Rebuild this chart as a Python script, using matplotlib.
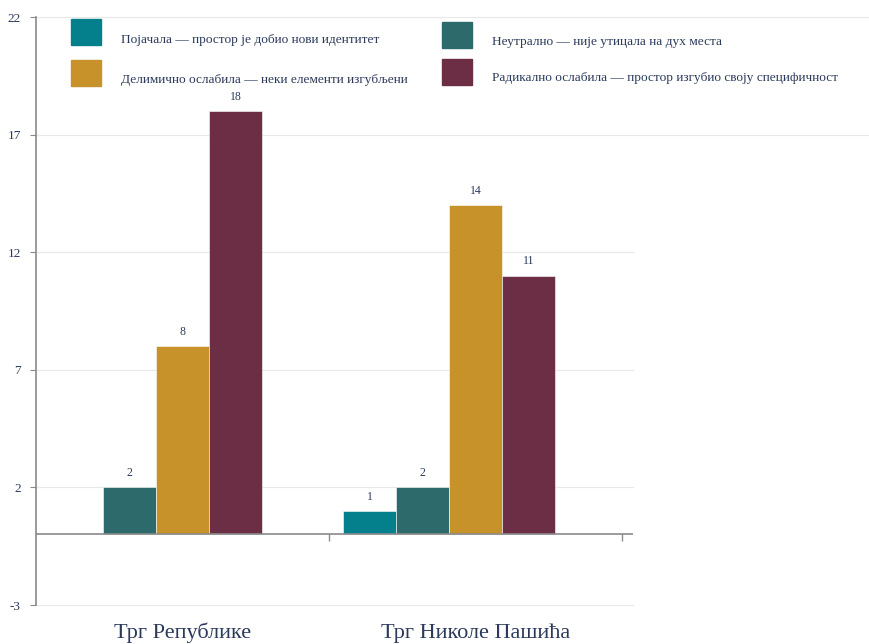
import numpy as np
import matplotlib.pyplot as plt
from matplotlib.patches import Rectangle
from matplotlib.transforms import blended_transform_factory

# data
categories = ['Трг Републике', 'Трг Николе Пашића']
series_labels = [
    'Појачала — простор је добио нови идентитет',
    'Неутрално — није утицала на дух места',
    'Делимично ослабила — неки елементи изгубљени',
    'Радикално ослабила — простор изгубио своју специфичност',
]
series_values = [
    [0, 1],    # појачала
    [2, 2],    # неутрално
    [8, 14],   # делимично
    [18, 11],  # радикално
]
colors = ['#04808C', '#2D6A6B', '#C8922B', '#6C2E45']
yticks = [-3, 2, 7, 12, 17, 22]

text_col = '#2b3a5a'
grid_col = '#e8e8e8'
axis_col = '#8a8a8a'
serif = ['Liberation Serif', 'DejaVu Serif']

W, H = 870, 644
fig = plt.figure(figsize=(W / 100, H / 100), dpi=100)
left, right, top, bottom = 36, 633, 17, 605
ax = fig.add_axes([left / W, (H - bottom) / H, (right - left) / W, (bottom - top) / H])

band = 293.0
bar_w = 53 / band
offset = 14 / band
ax.set_xlim(-0.5, 1.5 + 11 / band)
ax.set_ylim(-3, 22)

for j, vals in enumerate(series_values):
    xs = np.arange(len(categories)) - 0.5 + offset + bar_w * (j + 0.5)
    for x, v in zip(xs, vals):
        if v == 0:
            continue
        ax.bar(x, v, width=bar_w, color=colors[j], edgecolor='white', linewidth=0.4, zorder=3)
        ax.text(x, v + 0.35, str(v), ha='center', va='bottom', fontsize=8.5,
                color=text_col, family=serif, zorder=4)

# grid
for t in yticks:
    ext = (W - left) / (right - left) if t >= 17 else 1.0
    ax.plot([0, ext], [t, t], transform=blended_transform_factory(ax.transAxes, ax.transData),
            color=grid_col, linewidth=0.8, zorder=0, clip_on=False)

# zero line and category ticks
ax.axhline(0, color=axis_col, linewidth=1.2, zorder=5)
ax.vlines([0.5, 1.5], -0.28, 0, color=axis_col, linewidth=1, zorder=5)

ax.set_xticks([])
ax.set_yticks(yticks)
ax.set_yticklabels([str(t) for t in yticks], family=serif, fontsize=9.5, color=text_col)
ax.tick_params(axis='y', length=4, color=axis_col, pad=7)
for s in ['top', 'right', 'bottom']:
    ax.spines[s].set_visible(False)
ax.spines['left'].set_color(axis_col)
ax.spines['left'].set_linewidth(1.2)

tr = blended_transform_factory(ax.transData, fig.transFigure)
for i, c in enumerate(categories):
    ax.text(i, 1 - 633 / H, c, transform=tr, ha='center', va='center',
            fontsize=16, color=text_col, family=serif)

# legend
leg_pos = [(71, 19, 121, 40), (442, 22, 492, 42), (71, 60, 121, 80), (442, 59, 492, 78)]
for j, (sx, sy, tx, ty) in enumerate(leg_pos):
    fig.patches.append(Rectangle((sx / W, 1 - (sy + 26) / H), 30 / W, 26 / H,
                                 transform=fig.transFigure, color=colors[j]))
    fig.text(tx / W, 1 - ty / H, series_labels[j], ha='left', va='center',
             fontsize=9.6, color=text_col, family=serif)

fig.savefig('out.png', dpi=100)
